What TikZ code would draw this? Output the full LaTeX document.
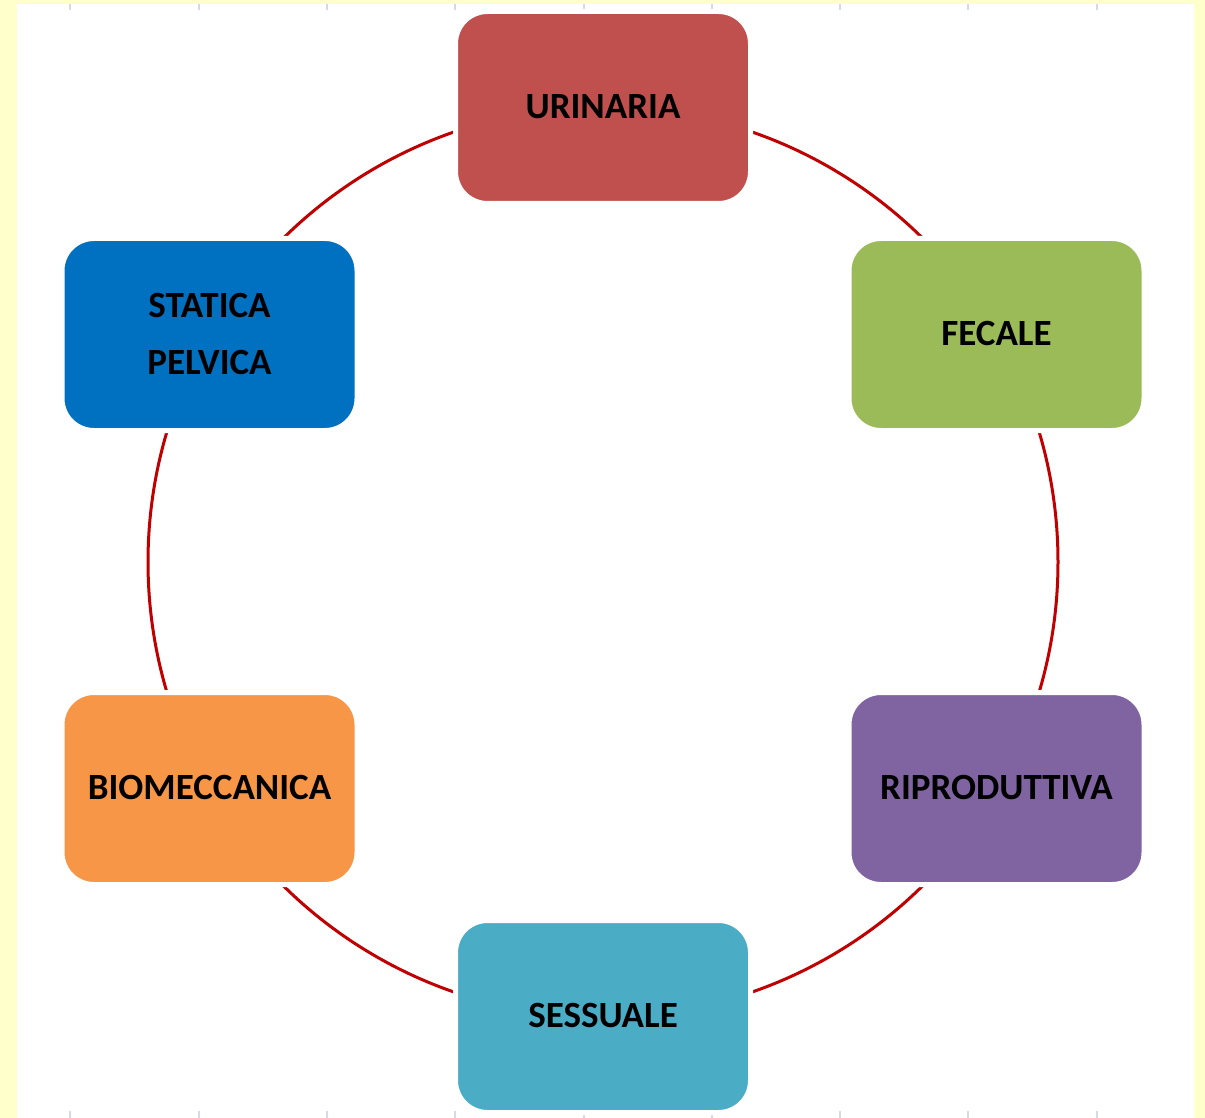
\documentclass[tikz,border=0pt]{standalone}
\usepackage{fontspec}
\setmainfont{Carlito}
\definecolor{bgyellow}{HTML}{FFFFCC}
\definecolor{tickgrey}{HTML}{D4DAE8}
\definecolor{ringred}{HTML}{C00000}
\definecolor{cUrin}{HTML}{C0504D}
\definecolor{cFec}{HTML}{9BBB59}
\definecolor{cRip}{HTML}{8064A2}
\definecolor{cSes}{HTML}{4BACC6}
\definecolor{cBio}{HTML}{F79646}
\definecolor{cSta}{HTML}{0070C0}
\tikzset{
  cyclebox/.style={rounded corners=32pt, minimum width=295pt, minimum height=192pt,
    inner sep=0pt, draw=white, line width=5pt, align=center,
    font=\fontsize{37}{57}\selectfont\bfseries, text=black},
  ring/.style={draw=ringred, line width=3pt},
  tick/.style={draw=tickgrey, line width=2pt}
}
\begin{document}
\begin{tikzpicture}[x=1pt,y=-1pt]
  \fill[bgyellow] (0,0) rectangle (1205,1118);
  \fill[white] (17,4) rectangle (1194,1118);
  \useasboundingbox (0,0) rectangle (1205,1118);
  \foreach \tx in {70,199,327,455,584,712,840,968,1097}{
    \draw[tick] (\tx,4) -- (\tx,10);
    \draw[tick] (\tx,1111) -- (\tx,1118);
  }
  \coordinate (ctr) at (603,562);
  \draw[ring] (ctr) circle [radius=455pt];
  \node[cyclebox, fill=cUrin] (urin) at (603,107.5) {\raisebox{2pt}{URINARIA}};
  \node[cyclebox, fill=cFec] (fec) at (996.5,334.5) {\raisebox{2pt}{FECALE}};
  \node[cyclebox, fill=cRip] (rip) at (996.5,788.5) {\raisebox{2pt}{RIPRODUTTIVA}};
  \node[cyclebox, fill=cSes] (ses) at (603,1016.5) {\raisebox{2pt}{SESSUALE}};
  \node[cyclebox, fill=cBio] (bio) at (209.5,788.5) {\raisebox{2pt}{BIOMECCANICA}};
  \node[cyclebox, fill=cSta] (sta) at (209.5,334.5) {\raisebox{5pt}{\begin{tabular}{@{}c@{}}STATICA\\PELVICA\end{tabular}}};
\end{tikzpicture}
\end{document}
